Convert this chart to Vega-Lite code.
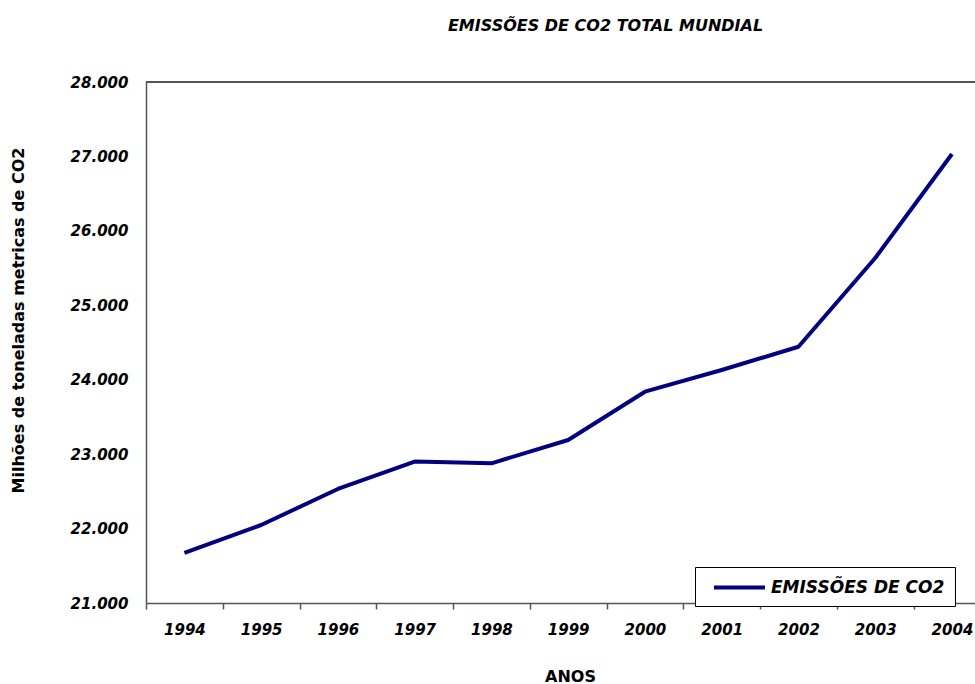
{
  "$schema": "https://vega.github.io/schema/vega-lite/v6.json",
  "width": 829,
  "height": 521,
  "autosize": "none",
  "padding": {"left": 146, "top": 82, "right": 0, "bottom": 81},
  "background": "white",
  "config": {"view": {"stroke": null}},
  "title": {
    "text": "EMISSÕES DE CO2 TOTAL MUNDIAL",
    "frame": "group",
    "anchor": "middle",
    "dx": 45,
    "offset": 28,
    "baseline": "alphabetic",
    "font": "DejaVu Sans",
    "fontSize": 16,
    "fontWeight": "bold",
    "fontStyle": "italic",
    "color": "black"
  },
  "data": {
    "values": [
      {"ano": 1994, "emissoes": 21672, "serie": "EMISSÕES DE CO2"},
      {"ano": 1995, "emissoes": 22048, "serie": "EMISSÕES DE CO2"},
      {"ano": 1996, "emissoes": 22532, "serie": "EMISSÕES DE CO2"},
      {"ano": 1997, "emissoes": 22901, "serie": "EMISSÕES DE CO2"},
      {"ano": 1998, "emissoes": 22877, "serie": "EMISSÕES DE CO2"},
      {"ano": 1999, "emissoes": 23190, "serie": "EMISSÕES DE CO2"},
      {"ano": 2000, "emissoes": 23839, "serie": "EMISSÕES DE CO2"},
      {"ano": 2001, "emissoes": 24130, "serie": "EMISSÕES DE CO2"},
      {"ano": 2002, "emissoes": 24443, "serie": "EMISSÕES DE CO2"},
      {"ano": 2003, "emissoes": 25635, "serie": "EMISSÕES DE CO2"},
      {"ano": 2004, "emissoes": 27033, "serie": "EMISSÕES DE CO2"}
    ]
  },
  "layer": [
    {
      "mark": {"type": "rule", "color": "#555", "strokeWidth": 1.5},
      "encoding": {"y": {"datum": 28000, "type": "quantitative"}}
    },
    {
      "mark": {"type": "line", "strokeWidth": 4, "strokeJoin": "round"},
      "encoding": {
        "x": {
          "field": "ano",
          "type": "quantitative",
          "title": "ANOS",
          "scale": {"domain": [1993.5, 2004.3], "nice": false, "zero": false},
          "axis": {
            "values": [1993.5, 1994, 1994.5, 1995, 1995.5, 1996, 1996.5, 1997, 1997.5, 1998, 1998.5, 1999, 1999.5, 2000, 2000.5, 2001, 2001.5, 2002, 2002.5, 2003, 2003.5, 2004],
            "labelExpr": "datum.value % 1 === 0 ? format(datum.value, 'd') : ''",
            "tickOpacity": {"condition": {"test": "datum.value % 1 !== 0", "value": 1}, "value": 0},
            "tickSize": 6,
            "tickColor": "#555",
            "tickWidth": 1.5,
            "domainColor": "#555",
            "domainWidth": 1.5,
            "grid": false,
            "labelPadding": 13,
            "labelFont": "DejaVu Sans",
            "labelFontSize": 15,
            "labelFontWeight": "bold",
            "labelFontStyle": "italic",
            "labelColor": "black",
            "labelOverlap": false,
            "labelFlush": false,
            "labelBound": false,
            "titleX": 424,
            "titleY": 78,
            "titleAlign": "center",
            "titleBaseline": "alphabetic",
            "titleFont": "DejaVu Sans",
            "titleFontSize": 16,
            "titleFontWeight": "bold",
            "titleColor": "black"
          }
        },
        "y": {
          "field": "emissoes",
          "type": "quantitative",
          "title": "Milhões de toneladas metricas de CO2",
          "scale": {"domain": [21000, 28000], "nice": false, "zero": false},
          "axis": {
            "values": [21000, 22000, 23000, 24000, 25000, 26000, 27000, 28000],
            "labelExpr": "replace(format(datum.value, ','), ',', '.')",
            "ticks": false,
            "grid": false,
            "domainColor": "#555",
            "domainWidth": 1.5,
            "labelPadding": 18,
            "labelFont": "DejaVu Sans",
            "labelFontSize": 15,
            "labelFontWeight": "bold",
            "labelFontStyle": "italic",
            "labelColor": "black",
            "labelOverlap": false,
            "labelFlush": false,
            "labelBound": false,
            "titleX": -128,
            "titleY": 238,
            "titleAngle": 270,
            "titleAlign": "center",
            "titleBaseline": "middle",
            "titleFont": "DejaVu Sans",
            "titleFontSize": 16,
            "titleFontWeight": "bold",
            "titleColor": "black"
          }
        },
        "color": {
          "field": "serie",
          "type": "nominal",
          "scale": {"range": ["#000080"]},
          "legend": {
            "orient": "none",
            "legendX": 549,
            "legendY": 485,
            "title": null,
            "strokeColor": "black",
            "fillColor": "white",
            "padding": 10,
            "symbolType": "M-3,0H3",
            "symbolSize": 289,
            "symbolStrokeWidth": 4,
            "symbolOffset": 24,
            "labelOffset": 21,
            "labelLimit": 400,
            "labelFont": "DejaVu Sans",
            "labelFontSize": 17,
            "labelFontWeight": "bold",
            "labelFontStyle": "italic",
            "labelColor": "black"
          }
        }
      }
    }
  ]
}
